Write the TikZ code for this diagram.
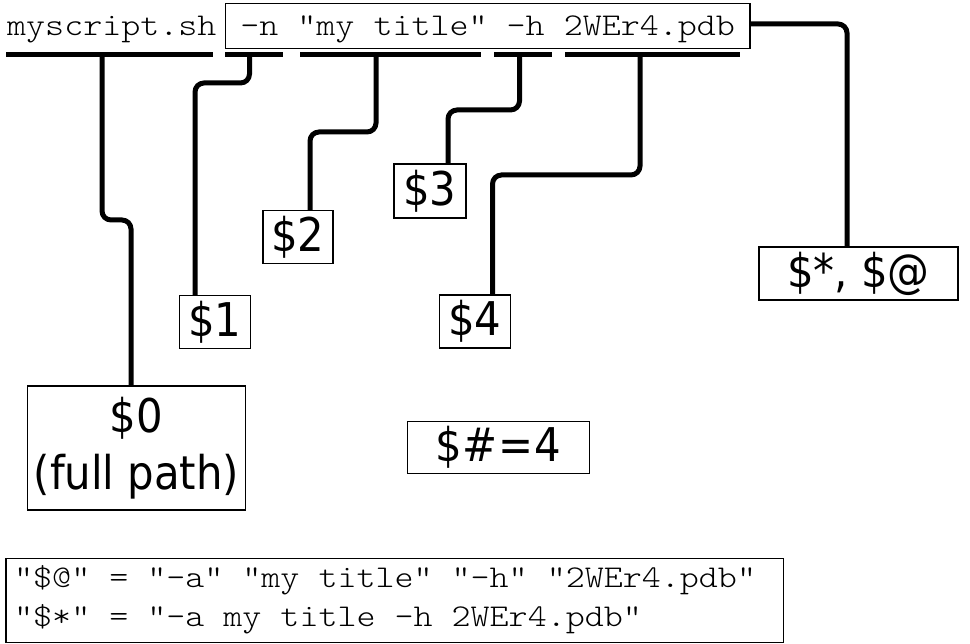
\documentclass[tikz,border=0pt]{standalone}
\usepackage{fontspec}
\IfFontExistsTF{lmmonolt10-regular.otf}
  {\setmonofont{lmmonolt10-regular.otf}[FakeStretch=1.143]}
  {\setmonofont{lmmono10-regular.otf}[FakeStretch=1.143]}
\IfFontExistsTF{DejaVu Sans Condensed}
  {\newfontfamily\labfont{DejaVu Sans Condensed}}
  {\newfontfamily\labfont{DejaVu Sans}[FakeStretch=0.9]}
\tikzset{
  wire/.style={line width=5pt, rounded corners=9pt},
  under/.style={line width=5pt},
  lbl/.style={draw, line width=1.2pt, inner sep=0pt, align=center,
    font=\labfont\fontsize{46.5}{57}\selectfont},
  mono/.style={font=\ttfamily\fontsize{31.7}{39}\selectfont},
  thinbox/.style={draw, line width=1.2pt, inner sep=0pt},
}
\begin{document}
\begin{tikzpicture}[x=1pt,y=-1pt]
\useasboundingbox (0,0) rectangle (970,644);
% command line
\node[mono, anchor=base west, inner sep=0pt] (ms) at (7,36) {myscript.sh};
\node[mono, thinbox,
  minimum width=524.7pt, text height=32.7pt, text depth=12.3pt,
  anchor=base] (cmd) at (487.7,36) {-n "my title" -h 2WEr4.pdb};
% underlines
\coordinate (u1w) at (6,55);   \coordinate (u1e) at (213,55);
\coordinate (u2w) at (225,55); \coordinate (u2e) at (283,55);
\coordinate (u3w) at (300,55); \coordinate (u3e) at (481,55);
\coordinate (u4w) at (494,55); \coordinate (u4e) at (552,55);
\coordinate (u5w) at (565,55); \coordinate (u5e) at (740,55);
\coordinate (u1) at (102,55);
\coordinate (u2) at (249.5,55);
\coordinate (u3) at (376,55);
\coordinate (u4) at (519.5,55);
\coordinate (u5) at (640,55);
\draw[under] (u1w) -- (u1e);
\draw[under] (u2w) -- (u2e);
\draw[under] (u3w) -- (u3e);
\draw[under] (u4w) -- (u4e);
\draw[under] (u5w) -- (u5e);
% label boxes
\node[lbl, minimum width=218pt, minimum height=124pt] (b0) at (136.5,448) {\$0\\(full path)};
\node[lbl, minimum width=71pt, minimum height=52.5pt] (b1) at (215,322) {\$1};
\node[lbl, minimum width=70pt, minimum height=52.5pt] (b2) at (298,237) {\$2};
\node[lbl, minimum width=72pt, minimum height=54pt] (b3) at (430,191) {\$3};
\node[lbl, minimum width=71pt, minimum height=53pt] (b4) at (475,321.5) {\$4};
\node[lbl, minimum width=199pt, minimum height=53pt] (bs) at (858.5,273.5) {\$*, \$@};
\node[lbl, minimum width=182pt, minimum height=51.6pt] (bh) at (498.3,447.5) {\$\#\kern1pt=\kern1pt4};
% connectors
\draw[wire] (u1) |- (131,220) -- (b0.north -| 131,0);
\draw[wire] (u2) |- (195,83) -- (b1.north -| 195,0);
\draw[wire] (u3) |- (310,132) -- (b2.north -| 310,0);
\draw[wire] (u4) |- (448,110) -- (b3.north -| 448,0);
\draw[wire] (u5) |- (492.5,175) -- (b4.north -| 492.5,0);
\draw[wire] (cmd.east |- 0,24) -| (bs.north -| 847,0);
% summary box
\node[thinbox, minimum width=777.3pt, minimum height=84.4pt] (sum) at (394.7,600.5) {};
\node[mono, anchor=base west, inner sep=0pt] (l1) at (14,587) {"\$@" = "-a" "my title" "-h" "2WEr4.pdb"};
\node[mono, anchor=base west, inner sep=0pt] (l2) at (14,626) {"\$*" = "-a my title -h 2WEr4.pdb"};
\end{tikzpicture}
\end{document}
